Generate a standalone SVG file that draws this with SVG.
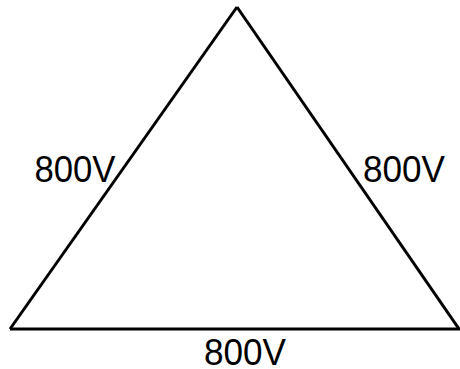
<svg xmlns="http://www.w3.org/2000/svg" width="460" height="369" viewBox="0 0 460 369">
<style>
.edge{fill:none;stroke:#000;stroke-width:3;stroke-linejoin:miter}
.lbl{font-family:"Liberation Sans",Arial,sans-serif;font-size:37px;fill:#000;text-anchor:middle}
</style>
<rect width="460" height="369" fill="#fff"/>
<g id="connectors">
<path class="edge" d="M237,7 L10,329"/>
<path class="edge" d="M237,7 L459,329"/>
<path class="edge" d="M10,329 L460,329"/>
</g>
<g id="label-left"><text class="lbl" x="75" y="182" textLength="81" lengthAdjust="spacingAndGlyphs">800V</text></g>
<g id="label-right"><text class="lbl" x="404" y="182" textLength="82" lengthAdjust="spacingAndGlyphs">800V</text></g>
<g id="label-bottom"><text class="lbl" x="245" y="365" textLength="82" lengthAdjust="spacingAndGlyphs">800V</text></g>
</svg>
